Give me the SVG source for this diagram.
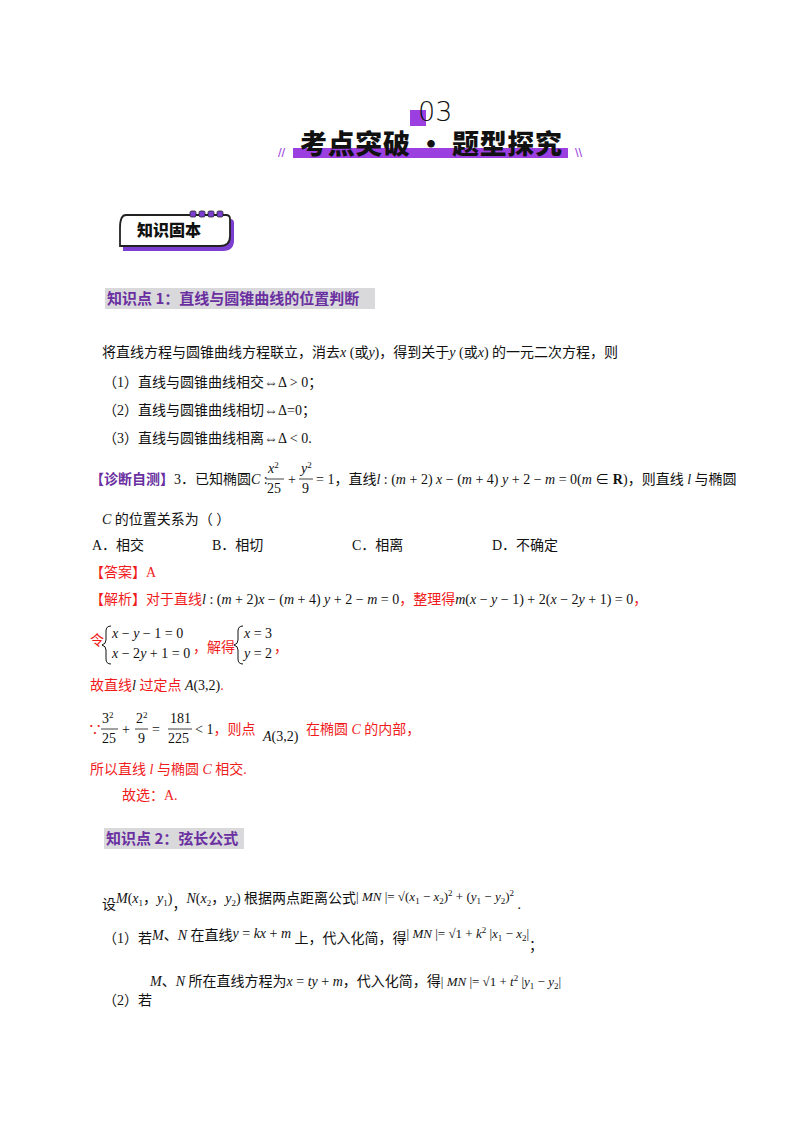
<svg xmlns="http://www.w3.org/2000/svg" width="800" height="1132" viewBox="0 0 800 1132">
<style>
text{font-family:"Liberation Serif","Noto Sans CJK SC",serif;font-size:14px;fill:#111}
.m{font-family:"Liberation Serif",serif;font-style:italic}
.r{fill:#f01c1c}
.p{fill:#6a2fa0;font-weight:bold;font-family:"Noto Sans CJK SC",sans-serif;font-size:15px}
.h{font-family:"Noto Sans CJK SC",sans-serif;font-weight:900}
.s{font-size:9px}
.b{fill:none;stroke:#111;stroke-width:1}
</style>
<rect width="800" height="1132" fill="#fff"/>
<!-- header -->
<rect x="410" y="110" width="16" height="16" fill="#9b3fe0"/>
<text x="418" y="121" style="font-family:'DejaVu Sans',sans-serif;font-size:27px;font-weight:300" fill="#222">03</text>
<rect x="293" y="148" width="275" height="10" fill="#9b3fe0"/>
<text x="300" y="154" class="h" style="font-size:27px" textLength="262">考点突破 · 题型探究</text>
<text x="278" y="157" style="font-size:13px;fill:#9b3fe0;font-family:'Liberation Sans',sans-serif">//</text>
<text x="575" y="157" style="font-size:13px;fill:#9b3fe0;font-family:'Liberation Sans',sans-serif">\\</text>
<!-- badge -->
<g id="badge">
<path d="M128 219 H230 Q234 219 234 223 V240 Q234 251 223 251 H123 V232 Q123 219 128 219Z" fill="#7b3ed0"/>
<path d="M126 215 H226 Q230 215 230 219 V236 Q230 246 220 246 H120 V228 Q120 215 126 215Z" fill="#fff" stroke="#222" stroke-width="1.8"/>
<g fill="#7b3ed0" stroke="#222" stroke-width="0.8"><rect x="190" y="211" width="6" height="6" rx="1.5"/><rect x="199" y="211" width="6" height="6" rx="1.5"/><rect x="208" y="211" width="6" height="6" rx="1.5"/><rect x="217" y="211" width="6" height="6" rx="1.5"/></g>
<text x="137" y="236" class="h" style="font-size:16px">知识固本</text>
</g>
<!-- heading 1 -->
<rect x="105" y="288" width="270" height="21" fill="#d9d9dc"/>
<text x="107" y="304" class="p">知识点 1：直线与圆锥曲线的位置判断</text>
<text x="102" y="357">将直线方程与圆锥曲线方程联立，消去<tspan class="m">x</tspan> (或<tspan class="m">y</tspan>)，得到关于<tspan class="m">y</tspan> (或<tspan class="m">x</tspan>) 的一元二次方程，则</text>
<text x="103" y="387">（1）直线与圆锥曲线相交⇔Δ &gt; 0；</text>
<text x="103" y="415">（2）直线与圆锥曲线相切⇔Δ=0；</text>
<text x="103" y="443">（3）直线与圆锥曲线相离⇔Δ &lt; 0.</text>
<!-- problem -->
<text x="90" y="484"><tspan style="fill:#6a2fa0;font-family:'Noto Sans CJK SC',sans-serif;font-weight:bold">【诊断自测】</tspan>3．已知椭圆<tspan class="m">C</tspan> :</text>
<text x="268" y="473" class="m">x<tspan class="s" dy="-5" font-style="normal">2</tspan></text>
<line x1="266" y1="479" x2="284" y2="479" stroke="#111" stroke-width="0.8"/>
<text x="267" y="493">25</text>
<text x="288" y="484">+</text>
<text x="301" y="473" class="m">y<tspan class="s" dy="-5" font-style="normal">2</tspan></text>
<line x1="299" y1="479" x2="313" y2="479" stroke="#111" stroke-width="0.8"/>
<text x="302" y="493">9</text>
<text x="316" y="484">= 1，直线<tspan class="m">l</tspan> : (<tspan class="m">m</tspan> + 2) <tspan class="m">x</tspan> − (<tspan class="m">m</tspan> + 4) <tspan class="m">y</tspan> + 2 − <tspan class="m">m</tspan> = 0(<tspan class="m">m</tspan> ∈ <tspan font-weight="bold">R</tspan>)，则直线 <tspan class="m">l</tspan> 与椭圆</text>
<text x="102" y="524"><tspan class="m">C</tspan> 的位置关系为（    ）</text>
<text x="92" y="550">A．相交</text>
<text x="212" y="550">B．相切</text>
<text x="352" y="550">C．相离</text>
<text x="492" y="550">D．不确定</text>
<text x="90" y="577" class="r">【答案】A</text>
<text x="90" y="604" class="r">【解析】对于直线<tspan class="m" fill="#111">l</tspan><tspan fill="#111"> : (<tspan class="m">m</tspan> + 2)<tspan class="m">x</tspan> − (<tspan class="m">m</tspan> + 4) <tspan class="m">y</tspan> + 2 − <tspan class="m">m</tspan> = 0</tspan>，整理得<tspan fill="#111"><tspan class="m">m</tspan>(<tspan class="m">x</tspan> − <tspan class="m">y</tspan> − 1) + 2(<tspan class="m">x</tspan> − 2<tspan class="m">y</tspan> + 1) = 0</tspan>，</text>
<text x="90" y="645" class="r">令</text>
<path class="b" d="M111 626 Q106 626 106 631 V640 Q106 644 102 645 Q106 646 106 650 V659 Q106 664 111 664"/>
<text x="112" y="638"><tspan class="m">x</tspan> − <tspan class="m">y</tspan> − 1 = 0</text>
<text x="112" y="658"><tspan class="m">x</tspan> − 2<tspan class="m">y</tspan> + 1 = 0</text>
<text x="193" y="652" class="r">，解得</text>
<path class="b" d="M243 626 Q238 626 238 631 V640 Q238 644 234 645 Q238 646 238 650 V659 Q238 664 243 664"/>
<text x="244" y="638"><tspan class="m">x</tspan> = 3</text>
<text x="244" y="658"><tspan class="m">y</tspan> = 2</text>
<text x="274" y="652" class="r">，</text>
<text x="90" y="690" class="r">故直线<tspan class="m" fill="#111">l</tspan> 过定点 <tspan fill="#111"><tspan class="m">A</tspan>(3,2)</tspan>.</text>
<text x="88" y="734" class="r">∵</text>
<text x="102" y="723">3<tspan class="s" dy="-5">2</tspan></text>
<line x1="101" y1="729" x2="118" y2="729" stroke="#111" stroke-width="0.8"/>
<text x="102" y="743">25</text>
<text x="122" y="734">+</text>
<text x="136" y="723">2<tspan class="s" dy="-5">2</tspan></text>
<line x1="135" y1="729" x2="148" y2="729" stroke="#111" stroke-width="0.8"/>
<text x="138" y="743">9</text>
<text x="152" y="734">=</text>
<text x="170" y="723">181</text>
<line x1="168" y1="729" x2="192" y2="729" stroke="#111" stroke-width="0.8"/>
<text x="168" y="743">225</text>
<text x="195" y="734">&lt; 1<tspan class="r">，则点</tspan></text>
<text x="263" y="741"><tspan class="m">A</tspan>(3,2)</text>
<text x="306" y="734" class="r">在椭圆 <tspan class="m">C</tspan> 的内部，</text>
<text x="90" y="774" class="r">所以直线 <tspan class="m">l</tspan> 与椭圆 <tspan class="m">C</tspan> 相交.</text>
<text x="122" y="800" class="r">故选：A.</text>
<!-- heading 2 -->
<rect x="104" y="828" width="140" height="21" fill="#d9d9dc"/>
<text x="106" y="844" class="p">知识点 2：弦长公式</text>
<text x="102" y="909">设<tspan class="m" dy="-6">M</tspan>(<tspan class="m">x</tspan><tspan class="s" dy="3">1</tspan><tspan dy="-3">，</tspan><tspan class="m">y</tspan><tspan class="s" dy="3">1</tspan><tspan dy="-3">)</tspan><tspan dy="6">，</tspan><tspan class="m" dy="-6">N</tspan>(<tspan class="m">x</tspan><tspan class="s" dy="3">2</tspan><tspan dy="-3">，</tspan><tspan class="m">y</tspan><tspan class="s" dy="3">2</tspan><tspan dy="-3">)</tspan> 根据两点距离公式<tspan style="font-size:13px" dy="-2">| <tspan class="m">MN</tspan> |= √(<tspan class="m">x</tspan><tspan class="s" dy="3">1</tspan><tspan dy="-3"> − </tspan><tspan class="m">x</tspan><tspan class="s" dy="3">2</tspan><tspan dy="-3">)</tspan><tspan class="s" dy="-5">2</tspan><tspan dy="5"> + (</tspan><tspan class="m">y</tspan><tspan class="s" dy="3">1</tspan><tspan dy="-3"> − </tspan><tspan class="m">y</tspan><tspan class="s" dy="3">2</tspan><tspan dy="-3">)</tspan><tspan class="s" dy="-5">2</tspan></tspan><tspan dy="13"> .</tspan></text>
<text x="103" y="943">（1）若<tspan class="m" dy="-3">M</tspan>、<tspan class="m">N</tspan> 在直线<tspan class="m" dy="-2">y</tspan> = <tspan class="m">kx</tspan> + <tspan class="m">m</tspan><tspan dy="5"> 上，代入化简，得</tspan><tspan dy="-5" style="font-size:13px">| <tspan class="m">MN</tspan> |= √1 + <tspan class="m">k</tspan><tspan class="s" dy="-5">2</tspan><tspan dy="5"> |<tspan class="m">x</tspan></tspan><tspan class="s" dy="3">1</tspan><tspan dy="-3"> − </tspan><tspan class="m">x</tspan><tspan class="s" dy="3">2</tspan><tspan dy="-3">|</tspan></tspan><tspan dy="12">；</tspan></text>
<text x="103" y="1005">（2）若</text>
<text x="150" y="986"><tspan class="m">M</tspan>、<tspan class="m">N</tspan> 所在直线方程为<tspan class="m">x</tspan> = <tspan class="m">ty</tspan> + <tspan class="m">m</tspan>，代入化简，得<tspan style="font-size:13px">| <tspan class="m">MN</tspan> |= √1 + <tspan class="m">t</tspan><tspan class="s" dy="-5">2</tspan><tspan dy="5"> |<tspan class="m">y</tspan></tspan><tspan class="s" dy="3">1</tspan><tspan dy="-3"> − </tspan><tspan class="m">y</tspan><tspan class="s" dy="3">2</tspan><tspan dy="-3">|</tspan></tspan></text>
</svg>
